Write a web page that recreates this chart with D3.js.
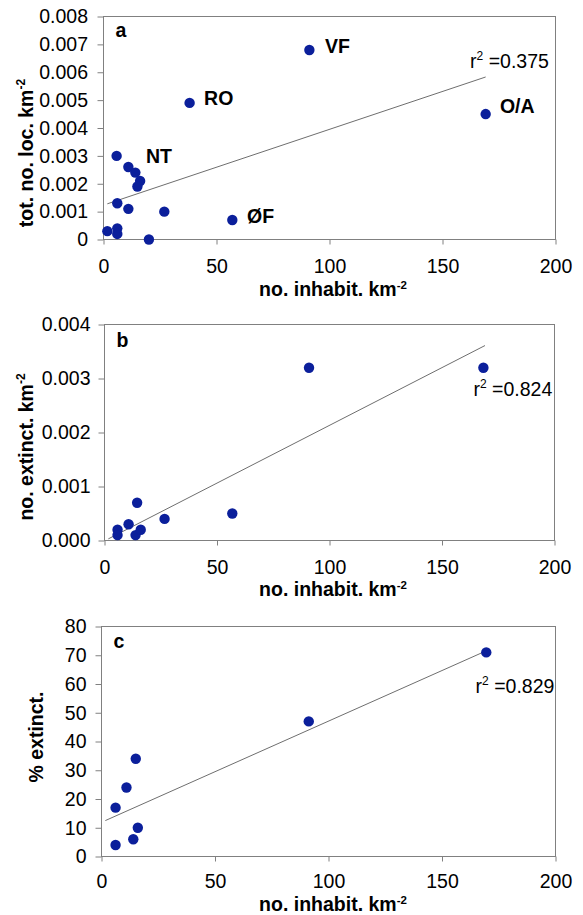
<!DOCTYPE html>
<html>
<head>
<meta charset="utf-8">
<script src="https://cdn.jsdelivr.net/npm/d3@7"></script>
<style>
  body { margin: 0; background: #fff; }
  svg { display: block; font-family: "Liberation Sans", Arial, sans-serif; }
  .tick text { font-size: 19.5px; fill: #000; }
  .tick line { stroke: #808080; }
</style>
</head>
<body>
<div id="chart"></div>
<script>
// shared x ticks (inhabitants per km2)
const xTicks = [0, 50, 100, 150, 200];

// panel a: total no. of localities per km2
const popA = [1.7, 6.1, 6.1, 5.8, 6.1, 11, 11, 14.1, 16.2, 15, 20.1, 26.9, 38.1, 57, 91.1, 169.1];
const locA = [0.0003, 0.0004, 0.0002, 0.0030, 0.0013, 0.0026, 0.0011, 0.0024, 0.0021, 0.0019, 0, 0.0010, 0.0049, 0.0007, 0.0068, 0.0045];
const yTicksA = [0, 0.001, 0.002, 0.003, 0.004, 0.005, 0.006, 0.007, 0.008];
const labelText = ["VF", "O/A", "RO", "NT", "ØF"];
const labelX = [98, 175.4, 44.5, 18.8, 63.5];
const labelY = [0.0067, 0.00454, 0.00483, 0.00274, 0.00059];

// panel b: no. of extinct localities per km2
const popB = [5.8, 5.8, 10.7, 14.5, 13.8, 16.1, 26.7, 56.8, 90.9, 168.4];
const extB = [0.0002, 0.0001, 0.0003, 0.0007, 0.0001, 0.0002, 0.0004, 0.0005, 0.0032, 0.0032];
const yTicksB = [0, 0.001, 0.002, 0.003, 0.004];

// panel c: % extinct
const popC = [6.2, 6.2, 11, 15.1, 14, 16, 91.3, 169.5];
const pctC = [17, 4, 24, 34, 6, 10, 47, 71];
const yTicksC = [0, 10, 20, 30, 40, 50, 60, 70, 80];

// trend lines (end points)
const trendX = [1.7, 169.1];
const trendA = [0.00128, 0.00583];
const trendB = [0.00003, 0.00361];
const trendC = [12.5, 71.4];

const r2 = ["0.375", "0.824", "0.829"];

const dotColor = "#0b1f9b";
const frameColor = "#808080";

const svg = d3.select("#chart").append("svg")
    .attr("width", 583)
    .attr("height", 915);

function drawPanel(p) {
    const x = d3.scaleLinear().domain([0, 200]).range([p.left, p.right]);
    const y = d3.scaleLinear().domain([0, p.ymax]).range([p.bottom, p.top]);
    const g = svg.append("g");

    g.append("rect")
        .attr("x", p.left).attr("y", p.top)
        .attr("width", p.right - p.left).attr("height", p.bottom - p.top)
        .attr("fill", "none").attr("stroke", frameColor);

    g.append("g")
        .attr("transform", "translate(0," + p.bottom + ")")
        .call(d3.axisBottom(x).tickValues(xTicks).tickSize(5).tickPadding(p.xpad).tickSizeOuter(0))
        .call(a => a.select(".domain").remove());

    g.append("g")
        .attr("transform", "translate(" + p.left + ",0)")
        .call(d3.axisLeft(y).tickValues(p.yTicks).tickSize(6).tickPadding(p.ypad).tickFormat(p.fmt).tickSizeOuter(0))
        .call(a => a.select(".domain").remove());

    // trend line
    g.append("line")
        .attr("x1", x(trendX[0])).attr("y1", y(p.trend[0]))
        .attr("x2", x(trendX[1])).attr("y2", y(p.trend[1]))
        .attr("stroke", "#6e6e6e").attr("stroke-width", 1);

    g.selectAll(".dot")
        .data(p.xs)
        .enter().append("circle")
        .attr("class", "dot")
        .attr("cx", function(d) { return x(d); })
        .attr("cy", function(d, i) { return y(p.ys[i]); })
        .attr("r", 5.2)
        .attr("fill", dotColor);

    // panel letter
    g.append("text")
        .attr("x", p.left + 12).attr("y", p.letterY)
        .attr("font-size", 19.5).attr("font-weight", "bold")
        .text(p.letter);

    // r2 annotation
    const rt = g.append("text")
        .attr("x", x(p.r2x)).attr("y", y(p.r2y))
        .attr("font-size", 19.5);
    rt.append("tspan").text("r");
    rt.append("tspan").attr("font-size", 12).attr("dy", -8).text("2");
    rt.append("tspan").attr("dy", 8).text(" =" + p.r2);

    // x title
    const xt = g.append("text")
        .attr("x", 333).attr("y", p.bottom + p.xTitleOff)
        .attr("text-anchor", "middle")
        .attr("font-size", 19.5).attr("font-weight", "bold");
    xt.append("tspan").text("no. inhabit. km");
    xt.append("tspan").attr("font-size", 11.5).attr("dy", -7).text("-2");

    // y title
    const yt = g.append("text")
        .attr("transform", "translate(" + p.yTitleX + "," + p.yTitleY + ") rotate(-90)")
        .attr("text-anchor", "middle")
        .attr("font-size", 19.5).attr("font-weight", "bold");
    yt.append("tspan").text(p.ytitle);
    if (p.ysup) {
        yt.append("tspan").attr("font-size", 12).attr("dy", -8).text(p.ysup);
    }

    return {x: x, y: y, g: g};
}

const pa = drawPanel({
    left: 103.5, right: 555.5, top: 16.5, bottom: 239.5,
    ymax: 0.008, yTicks: yTicksA, ypad: 9.5, xpad: 15,
    fmt: function(d) { return d === 0 ? "0" : d3.format(".3f")(d); },
    xs: popA, ys: locA, trend: trendA,
    letter: "a", letterY: 37,
    r2: r2[0], r2x: 162.2, r2y: 0.00615,
    xTitleOff: 56.5, ytitle: "tot. no. loc. km", ysup: "-2", yTitleX: 33, yTitleY: 153
});

// site labels in panel a
pa.g.selectAll(".site")
    .data(labelText)
    .enter().append("text")
    .attr("class", "site")
    .attr("x", function(d, i) { return pa.x(labelX[i]); })
    .attr("y", function(d, i) { return pa.y(labelY[i]); })
    .attr("font-size", 19.5).attr("font-weight", "bold")
    .text(function(d) { return d; });

drawPanel({
    left: 104.5, right: 554.5, top: 324.5, bottom: 540.5,
    ymax: 0.004, yTicks: yTicksB, ypad: 8, xpad: 14.5,
    fmt: d3.format(".3f"),
    xs: popB, ys: extB, trend: trendB,
    letter: "b", letterY: 346.5,
    r2: r2[1], r2x: 164, r2y: 0.00267,
    xTitleOff: 55.5, ytitle: "no. extinct. km", ysup: "-2", yTitleX: 33, yTitleY: 447
});

drawPanel({
    left: 101.5, right: 555.5, top: 626.5, bottom: 856.5,
    ymax: 80, yTicks: yTicksC, ypad: 9, xpad: 13,
    fmt: d3.format("d"),
    xs: popC, ys: pctC, trend: trendC,
    letter: "c", letterY: 648,
    r2: r2[2], r2x: 164.8, r2y: 56.8,
    xTitleOff: 54.5, ytitle: "% extinct.", ysup: null, yTitleX: 43, yTitleY: 737
});
</script>
</body>
</html>
